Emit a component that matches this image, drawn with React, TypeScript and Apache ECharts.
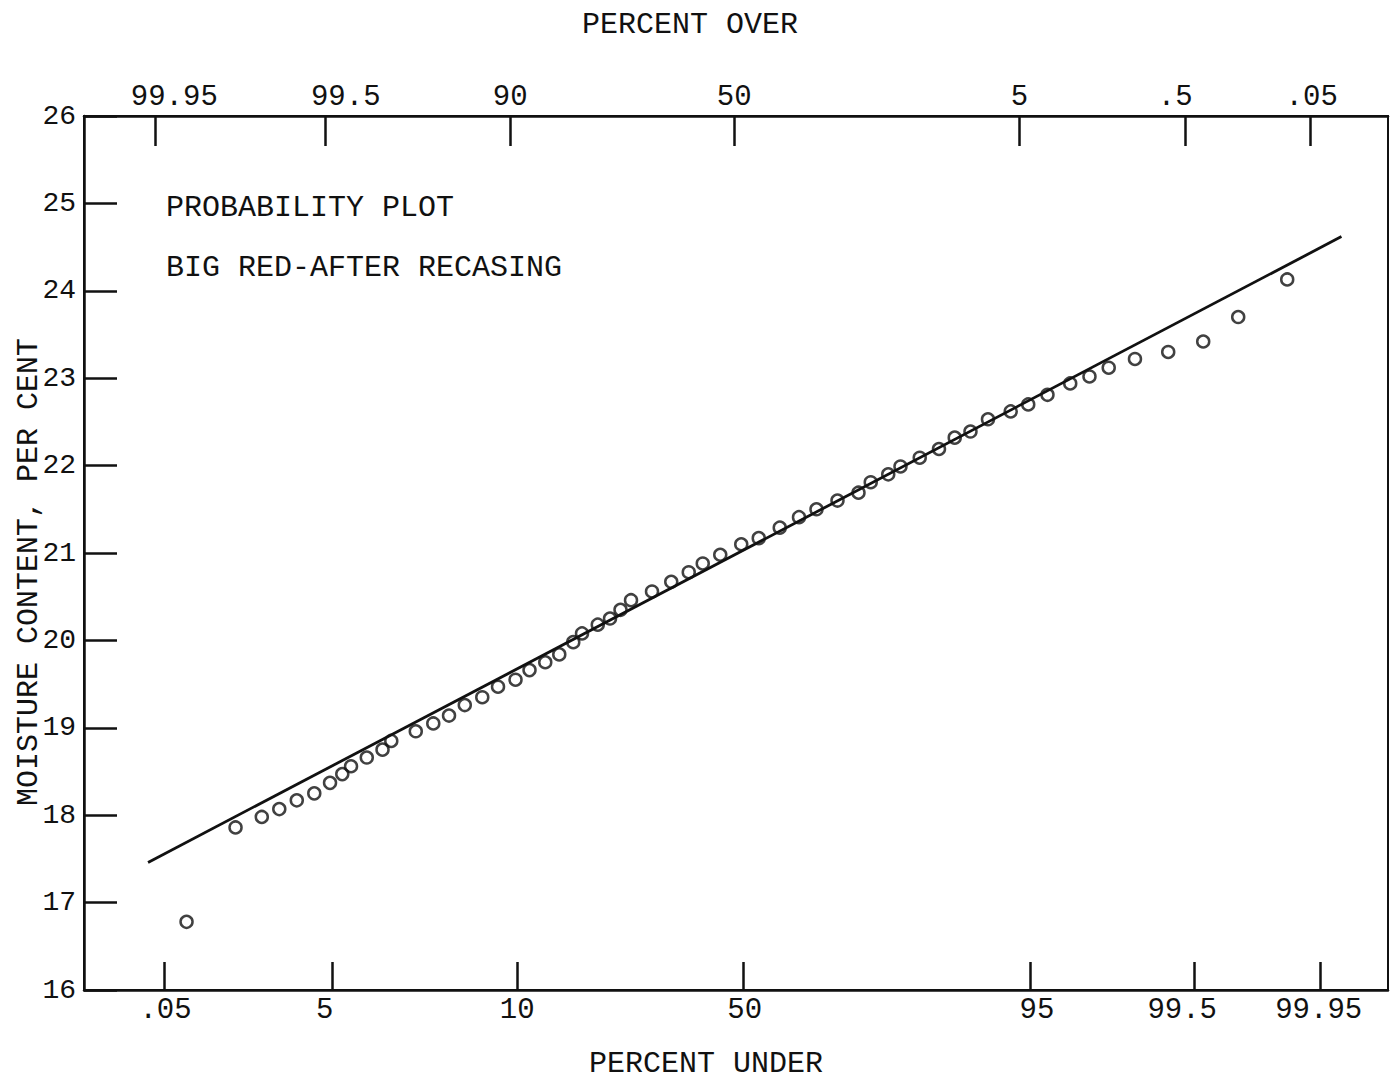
import React, { useEffect, useRef } from "react";
import * as echarts from "echarts";

// Probability (z-score) positions of the axis ticks and their labels
const bottomTickLabels = [".05", "5", "10", "50", "95", "99.5", "99.95"];
const bottomTickZ = [-3.31, -2.35, -1.29, 0, 1.64, 2.58, 3.3];
const bottomLabelZ = [-3.3, -2.39, -1.29, 0.01, 1.68, 2.51, 3.29];
const topTickLabels = ["99.95", "99.5", "90", "50", "5", ".5", ".05"];
const topTickZ = [-3.36, -2.39, -1.33, -0.05, 1.58, 2.53, 3.24];
const topLabelZ = [-3.25, -2.27, -1.33, -0.05, 1.58, 2.47, 3.25];
const yTickValues = [16, 17, 18, 19, 20, 21, 22, 23, 24, 25, 26];

// Observations: plotting position (z) and moisture content (%)
const pointZ = [
  -3.18, -2.9, -2.75, -2.65, -2.55, -2.45, -2.36, -2.29, -2.24, -2.15,
  -2.06, -2.01, -1.87, -1.77, -1.68, -1.59, -1.49, -1.4, -1.3, -1.22,
  -1.13, -1.05, -0.97, -0.92, -0.83, -0.76, -0.7, -0.64, -0.52, -0.41,
  -0.31, -0.23, -0.13, -0.01, 0.09, 0.21, 0.32, 0.42, 0.54, 0.66,
  0.73, 0.83, 0.9, 1.01, 1.12, 1.21, 1.3, 1.4, 1.53, 1.63,
  1.74, 1.87, 1.98, 2.09, 2.24, 2.43, 2.63, 2.83, 3.11,
];
const moisture = [
  16.78, 17.86, 17.98, 18.07, 18.17, 18.25, 18.37, 18.47, 18.56, 18.66,
  18.75, 18.85, 18.96, 19.05, 19.14, 19.26, 19.35, 19.47, 19.55, 19.66,
  19.75, 19.84, 19.98, 20.08, 20.18, 20.25, 20.35, 20.46, 20.56, 20.67,
  20.78, 20.88, 20.98, 21.1, 21.17, 21.29, 21.41, 21.5, 21.6, 21.69,
  21.81, 21.9, 21.99, 22.09, 22.19, 22.32, 22.39, 22.53, 22.62, 22.7,
  22.81, 22.94, 23.02, 23.12, 23.22, 23.3, 23.42, 23.7, 24.13,
];

// Fitted normal line end points
const fitZ = [-3.4, 3.42];
const fitMoisture = [17.46, 24.62];

const FONT = "'Liberation Mono', 'DejaVu Sans Mono', monospace";
const INK = "#111";

export default function App() {
  const ref = useRef<HTMLDivElement>(null);

  useEffect(() => {
    document.body.style.margin = "0";
    if (!ref.current) return;
    const chart = echarts.init(ref.current, undefined, { renderer: "svg" });

    const labelStyle = { color: INK, fontFamily: FONT, fontSize: 29 };
    const pick = (vals: number[], labels: string[]) => (v: number) => {
      const i = vals.indexOf(v);
      return i >= 0 ? labels[i] : "";
    };

    chart.setOption({
      animation: false,
      backgroundColor: "#fff",
      grid: {
        left: 84,
        right: 2,
        top: 116,
        bottom: 91,
        show: true,
        borderColor: INK,
        borderWidth: 2,
        backgroundColor: "transparent",
      },
      xAxis: [
        {
          type: "value",
          position: "bottom",
          min: -3.766,
          max: 3.686,
          axisLine: { show: true, onZero: false, lineStyle: { color: INK, width: 2.5 } },
          splitLine: { show: false },
          axisTick: {
            show: true,
            inside: true,
            length: 28,
            customValues: bottomTickZ,
            lineStyle: { color: INK, width: 2.5 },
          },
          axisLabel: {
            ...labelStyle,
            margin: 6,
            customValues: bottomLabelZ,
            formatter: pick(bottomLabelZ, bottomTickLabels),
          },
        },
        {
          type: "value",
          position: "top",
          min: -3.766,
          max: 3.686,
          axisLine: { show: true, onZero: false, lineStyle: { color: INK, width: 2.5 } },
          splitLine: { show: false },
          axisTick: {
            show: true,
            inside: true,
            length: 30,
            customValues: topTickZ,
            lineStyle: { color: INK, width: 2.5 },
          },
          axisLabel: {
            ...labelStyle,
            margin: 4,
            customValues: topLabelZ,
            formatter: pick(topLabelZ, topTickLabels),
          },
        },
      ],
      yAxis: {
        type: "value",
        min: 16,
        max: 26,
        interval: 1,
        axisLine: { show: true, onZero: false, lineStyle: { color: INK, width: 2.5 } },
        splitLine: { show: false },
        axisTick: {
          show: true,
          inside: true,
          length: 33,
          customValues: yTickValues,
          lineStyle: { color: INK, width: 2.5 },
        },
        axisLabel: { ...labelStyle, fontSize: 28, margin: 8 },
      },
      graphic: [
        {
          type: "text",
          x: 690,
          y: 25,
          style: {
            text: "PERCENT OVER",
            fill: INK,
            font: `30px ${FONT}`,
            align: "center",
            verticalAlign: "middle",
          },
        },
        {
          type: "text",
          x: 706,
          y: 1064,
          style: {
            text: "PERCENT UNDER",
            fill: INK,
            font: `30px ${FONT}`,
            align: "center",
            verticalAlign: "middle",
          },
        },
        {
          type: "text",
          x: 29,
          y: 572,
          rotation: Math.PI / 2,
          style: {
            text: "MOISTURE CONTENT, PER CENT",
            fill: INK,
            font: `30px ${FONT}`,
            align: "center",
            verticalAlign: "middle",
          },
        },
        {
          type: "text",
          x: 166,
          y: 208,
          style: {
            text: "PROBABILITY PLOT",
            fill: INK,
            font: `30px ${FONT}`,
            align: "left",
            verticalAlign: "middle",
          },
        },
        {
          type: "text",
          x: 166,
          y: 268,
          style: {
            text: "BIG RED-AFTER RECASING",
            fill: INK,
            font: `30px ${FONT}`,
            align: "left",
            verticalAlign: "middle",
          },
        },
      ],
      series: [
        {
          type: "line",
          xAxisIndex: 0,
          data: fitZ.map((z, i) => [z, fitMoisture[i]]),
          symbol: "none",
          lineStyle: { color: INK, width: 2.8 },
          silent: true,
          z: 2,
        },
        {
          type: "scatter",
          xAxisIndex: 0,
          data: pointZ.map((z, i) => [z, moisture[i]]),
          symbol: "circle",
          symbolSize: 12,
          itemStyle: {
            color: "rgba(255,255,255,0)",
            borderColor: INK,
            borderWidth: 2.5,
          },
          z: 3,
        },
      ],
    });

    return () => chart.dispose();
  }, []);

  return <div ref={ref} style={{ width: 1390, height: 1081 }} />;
}
